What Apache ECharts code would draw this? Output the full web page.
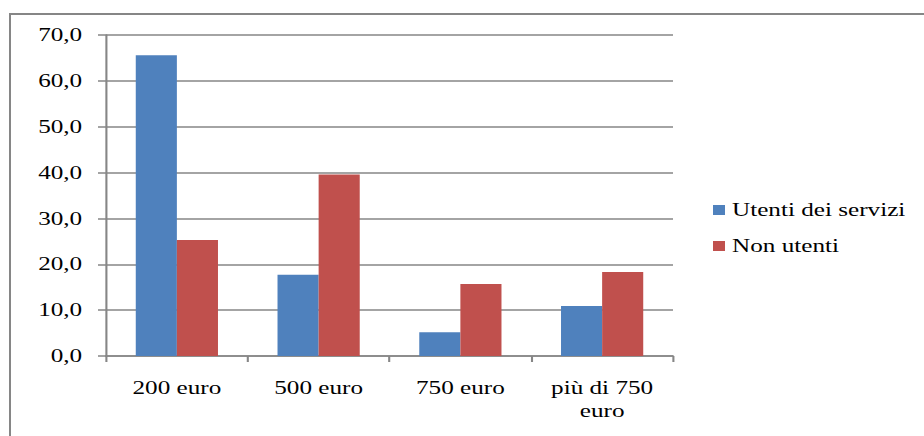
<!DOCTYPE html>
<html>
<head>
<meta charset="utf-8">
<script src="https://cdn.jsdelivr.net/npm/echarts@6/dist/echarts.min.js"></script>
<style>
  html, body { margin: 0; padding: 0; background: #fff; overflow: hidden; }
  body { width: 924px; height: 436px; position: relative; }
  /* outer chart frame */
  #frame {
    position: absolute; left: 9px; top: 13px; width: 940px; height: 440px;
    border: 2px solid #868686; box-sizing: border-box;
  }
  /* the chart is laid out narrow and widened, giving the wide serif lettering */
  #chart {
    position: absolute; left: 0; top: 0; width: 660px; height: 436px;
    transform: scaleX(1.4); transform-origin: 0 0;
  }
</style>
</head>
<body>
<div id="frame"></div>
<div id="chart"></div>
<script>
const categories = ['200 euro', '500 euro', '750 euro', 'più di 750\neuro'];
const utentiServizi = [65.6, 17.7, 5.2, 10.9];
const nonUtenti = [25.3, 39.6, 15.7, 18.3];
const seriesNames = ['Utenti dei servizi', 'Non utenti'];

const X = 1.4;            // horizontal stretch applied to the chart box
const grey = '#868686';
const font = '"Liberation Serif", "Times New Roman", serif';

const chart = echarts.init(document.getElementById('chart'), null, { renderer: 'svg' });
chart.setOption({
  animation: false,
  textStyle: { fontFamily: font },
  grid: { left: 106 / X, right: (924 - 673) / X, top: 35, bottom: 80, containLabel: false },
  legend: {
    orient: 'vertical',
    left: 713 / X,
    top: 201,
    padding: 0,
    itemWidth: 12 / X,
    itemHeight: 10,
    itemGap: 18,
    icon: 'rect',
    textStyle: { fontFamily: font, fontSize: 18, color: '#000', lineHeight: 18, padding: [0, 0, 0, 0] },
    data: seriesNames
  },
  xAxis: {
    type: 'category',
    data: categories,
    axisLine: { lineStyle: { color: grey, width: 1.5 } },
    axisTick: { show: true, length: 6, lineStyle: { color: grey, width: 1.5 } },
    axisLabel: {
      margin: 20, fontFamily: font, fontSize: 18, color: '#000', lineHeight: 23, interval: 0
    },
    splitLine: { show: false }
  },
  yAxis: {
    type: 'value',
    min: 0, max: 70, interval: 10,
    axisLine: { show: true, lineStyle: { color: grey, width: 1.5 } },
    axisTick: { show: true, length: 8 / X, lineStyle: { color: grey, width: 1.5 } },
    axisLabel: {
      margin: 17, fontFamily: font, fontSize: 18, color: '#000',
      formatter: v => v.toFixed(1).replace('.', ',')
    },
    splitLine: { show: true, lineStyle: { color: grey, width: 1.5 } }
  },
  series: [
    {
      name: seriesNames[0], type: 'bar', data: utentiServizi,
      itemStyle: { color: '#4F81BD' }, barGap: '0%', barCategoryGap: '42%'
    },
    {
      name: seriesNames[1], type: 'bar', data: nonUtenti,
      itemStyle: { color: '#C0504D' }, barGap: '0%', barCategoryGap: '42%'
    }
  ]
});
</script>
</body>
</html>
